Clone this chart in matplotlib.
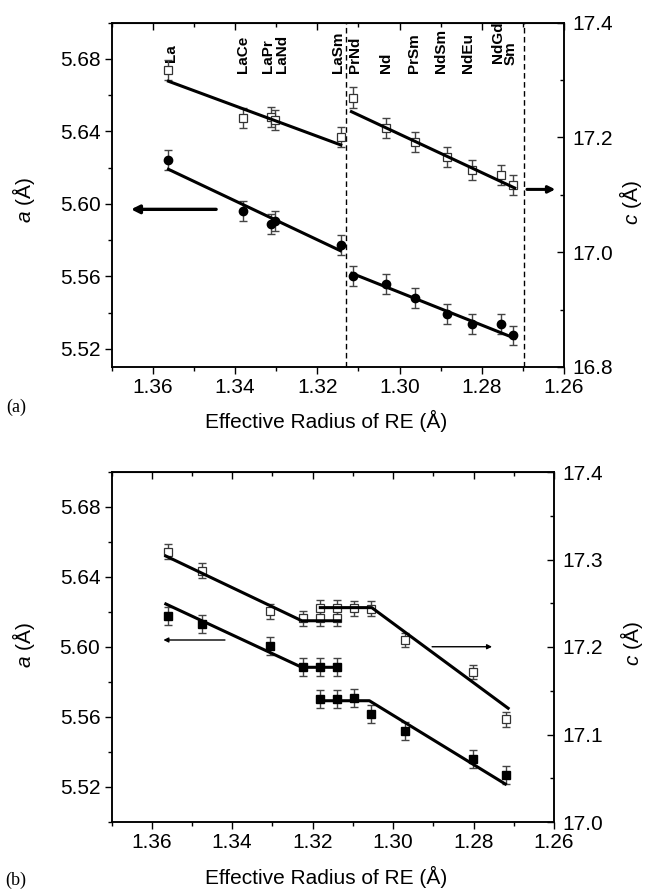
import matplotlib
matplotlib.use('Agg')
import matplotlib.pyplot as plt
from matplotlib.ticker import MultipleLocator, FormatStrFormatter

plt.rcParams['font.family'] = ['Liberation Sans', 'DejaVu Sans']
plt.rcParams['mathtext.fontset'] = 'custom'
plt.rcParams['mathtext.it'] = 'Liberation Sans:italic'
plt.rcParams['mathtext.rm'] = 'Liberation Sans'

# ---------------- Panel (a) data ----------------
labels_a = ['La', 'LaCe', 'LaPr', 'LaNd', 'LaSm', 'PrNd', 'Nd', 'PrSm', 'NdSm', 'NdEu', 'NdGd', 'Sm']
radius_a = [1.3562, 1.3381, 1.3312, 1.3302, 1.3143, 1.3114, 1.3033, 1.2962, 1.2885, 1.2824, 1.2753, 1.2724]
a_top = [5.6240, 5.5961, 5.5889, 5.5906, 5.5773, 5.5602, 5.5558, 5.5483, 5.5392, 5.5336, 5.5336, 5.5274]
c_top = [17.3175, 17.2347, 17.2350, 17.2303, 17.2007, 17.2696, 17.2164, 17.1920, 17.1658, 17.1432, 17.1344, 17.1170]
a_top_err = 0.0055
c_top_err = 0.0175

# fitted lines (endpoints)
a_fit1_r, a_fit1 = [1.3562, 1.3144], [5.6191, 5.5742]
a_fit2_r, a_fit2 = [1.3116, 1.2719], [5.5617, 5.5258]
c_fit1_r, c_fit1 = [1.3562, 1.3143], [17.298, 17.187]
c_fit2_r, c_fit2 = [1.3117, 1.2720], [17.245, 17.112]
dashed_r = [1.3129, 1.2697]

# ---------------- Panel (b) data ----------------
radius_b = [1.3559, 1.3476, 1.3307, 1.3223, 1.3181, 1.3140, 1.3181, 1.3140, 1.3097, 1.3055, 1.2970, 1.2802, 1.2719]
a_b = [5.6179, 5.6131, 5.6007, 5.5884, 5.5884, 5.5884, 5.5701, 5.5701, 5.5707, 5.5615, 5.5520, 5.5358, 5.5269]
c_b = [17.309, 17.287, 17.241, 17.2328, 17.2328, 17.2328, 17.2449, 17.2449, 17.2442, 17.2440, 17.208, 17.1714, 17.1174]
a_b_err = 0.0052
c_b_err = 0.0085

a_b_fit1_r, a_b_fit1 = [1.3565, 1.3227, 1.3132], [5.6246, 5.5884, 5.5884]
a_b_fit2_r, a_b_fit2 = [1.3186, 1.3059, 1.2721], [5.5693, 5.5693, 5.5217]
c_b_fit1_r, c_b_fit1 = [1.3565, 1.3227, 1.3132], [17.304, 17.230, 17.230]
c_b_fit2_r, c_b_fit2 = [1.3181, 1.3053, 1.2714], [17.245, 17.245, 17.130]

# ---------------- layout/style ----------------
label_dx_px = [3, 0.5, -3, 6.5, -2.5, 2.5, 0.5, -1.5, -5.5, -3.5, -3, -2]
label_y_frac = [0.886, 0.854, 0.854, 0.854, 0.854, 0.854, 0.854, 0.854, 0.854, 0.854, 0.883, 0.877]

FS = 15
fig = plt.figure(figsize=(6.47, 8.90), dpi=100)
W, H = 647.0, 890.0

def axes_px(l, r, t, b):
    return fig.add_axes([l / W, 1 - b / H, (r - l) / W, (b - t) / H])

ax1 = axes_px(111.7, 564, 22.7, 367)
ax2 = axes_px(111.5, 554, 472, 822)

ERRC = '#444444'

def style_axes(ax, axr, ylim_l, ylim_r, rmaj, rmin):
    ax.set_xlim(1.37, 1.26)
    ax.set_ylim(*ylim_l)
    axr.set_ylim(*ylim_r)
    ax.xaxis.set_major_locator(MultipleLocator(0.02))
    ax.xaxis.set_minor_locator(MultipleLocator(0.01))
    ax.xaxis.set_major_formatter(FormatStrFormatter('%.2f'))
    ax.yaxis.set_major_locator(MultipleLocator(0.04))
    ax.yaxis.set_minor_locator(MultipleLocator(0.02))
    ax.yaxis.set_major_formatter(FormatStrFormatter('%.2f'))
    axr.yaxis.set_major_locator(MultipleLocator(rmaj))
    axr.yaxis.set_minor_locator(MultipleLocator(rmin))
    axr.yaxis.set_major_formatter(FormatStrFormatter('%.1f'))
    ax.tick_params(axis='both', which='major', direction='out', length=5, width=1, labelsize=FS, pad=3)
    ax.tick_params(axis='both', which='minor', direction='out', length=3, width=1)
    ax.tick_params(axis='y', right=False)
    axr.tick_params(axis='y', which='major', direction='in', length=5, width=1, labelsize=FS, pad=6)
    axr.tick_params(axis='y', which='minor', direction='in', length=3, width=1)
    sec = ax.secondary_xaxis('top')
    sec.xaxis.set_major_locator(MultipleLocator(0.02))
    sec.xaxis.set_minor_locator(MultipleLocator(0.01))
    sec.tick_params(axis='x', which='major', direction='in', length=5, width=1, labeltop=False)
    sec.tick_params(axis='x', which='minor', direction='in', length=3, width=1)
    for a in (ax, axr):
        for s in a.spines.values():
            s.set_linewidth(1.1)
    ax.set_xlabel('Effective Radius of RE (Å)', fontsize=FS)
    ax.set_ylabel(r'$\it{a}$ (Å)', fontsize=FS)
    axr.set_ylabel(r'$\it{c}$ (Å)', fontsize=FS, rotation=90)

# ----- panel (a) -----
ax1r = ax1.twinx()
style_axes(ax1, ax1r, (5.51, 5.70), (16.8, 17.4), 0.2, 0.1)
ax1.errorbar(radius_a, a_top, yerr=a_top_err, fmt='none', ecolor=ERRC, elinewidth=1, capsize=3, capthick=1, zorder=2)
ax1.plot(radius_a, a_top, 'o', color='k', ms=6, zorder=3)
ax1.plot(a_fit1_r, a_fit1, '-', color='k', lw=2.2, zorder=4)
ax1.plot(a_fit2_r, a_fit2, '-', color='k', lw=2.2, zorder=4)
ax1r.errorbar(radius_a, c_top, yerr=c_top_err, fmt='none', ecolor=ERRC, elinewidth=1, capsize=3, capthick=1, zorder=2)
ax1r.plot(radius_a, c_top, 's', mfc='white', mec='#333333', mew=0.9, ms=5.5, zorder=3)
ax1r.plot(c_fit1_r, c_fit1, '-', color='k', lw=2.2, zorder=4)
ax1r.plot(c_fit2_r, c_fit2, '-', color='k', lw=2.2, zorder=4)
for r in dashed_r:
    ax1.axvline(r, color='k', ls=(0, (4, 2.5)), lw=1)
ax1.annotate('', xy=(1.3653, 5.597), xytext=(1.3446, 5.597),
             arrowprops=dict(arrowstyle='-|>', lw=2.4, color='k', mutation_scale=12, shrinkA=0, shrinkB=0))
ax1r.annotate('', xy=(1.2621, 17.1095), xytext=(1.2690, 17.1095),
              arrowprops=dict(arrowstyle='-|>', lw=2.2, color='k', mutation_scale=10, shrinkA=0, shrinkB=0))
for lab, r, dx, yf in zip(labels_a, radius_a, label_dx_px, label_y_frac):
    ax1.annotate(lab, xy=(r, yf), xycoords=('data', 'axes fraction'),
                 xytext=(dx * 0.72, 0), textcoords='offset points',
                 rotation=90, ha='center', va='bottom', fontsize=11, fontweight='bold')

ax1.xaxis.set_label_coords(0.475, -0.125)
ax1.yaxis.set_label_coords(-0.165, 0.485)
ax1r.yaxis.set_label_coords(1.118, 0.476)

# ----- panel (b) -----
ax2r = ax2.twinx()
style_axes(ax2, ax2r, (5.50, 5.70), (17.0, 17.4), 0.1, 0.05)
ax2.errorbar(radius_b, a_b, yerr=a_b_err, fmt='none', ecolor=ERRC, elinewidth=1, capsize=3, capthick=1, zorder=2)
ax2.plot(radius_b, a_b, 's', color='k', ms=5.5, zorder=3)
ax2.plot(a_b_fit1_r, a_b_fit1, '-', color='k', lw=2.2, zorder=4)
ax2.plot(a_b_fit2_r, a_b_fit2, '-', color='k', lw=2.2, zorder=4)
ax2r.errorbar(radius_b, c_b, yerr=c_b_err, fmt='none', ecolor=ERRC, elinewidth=1, capsize=3, capthick=1, zorder=2)
ax2r.plot(radius_b, c_b, 's', mfc='white', mec='#333333', mew=0.9, ms=5.5, zorder=3)
ax2r.plot(c_b_fit1_r, c_b_fit1, '-', color='k', lw=2.2, zorder=4)
ax2r.plot(c_b_fit2_r, c_b_fit2, '-', color='k', lw=2.2, zorder=4)
ax2.annotate('', xy=(1.3571, 5.604), xytext=(1.3418, 5.604),
             arrowprops=dict(arrowstyle='-|>', lw=1.0, color='k', mutation_scale=7, shrinkA=0, shrinkB=0))
ax2r.annotate('', xy=(1.2754, 17.2003), xytext=(1.2903, 17.2003),
              arrowprops=dict(arrowstyle='-|>', lw=1.0, color='k', mutation_scale=7, shrinkA=0, shrinkB=0))

ax2.xaxis.set_label_coords(0.485, -0.125)
ax2.yaxis.set_label_coords(-0.168, 0.506)
ax2r.yaxis.set_label_coords(1.144, 0.511)

fig.text(16 / W, 1 - 407 / H, '(a)', family='Liberation Serif', fontsize=13, ha='center', va='center')
fig.text(16 / W, 1 - 880 / H, '(b)', family='Liberation Serif', fontsize=13, ha='center', va='center')

fig.savefig('out.png', dpi=100)
